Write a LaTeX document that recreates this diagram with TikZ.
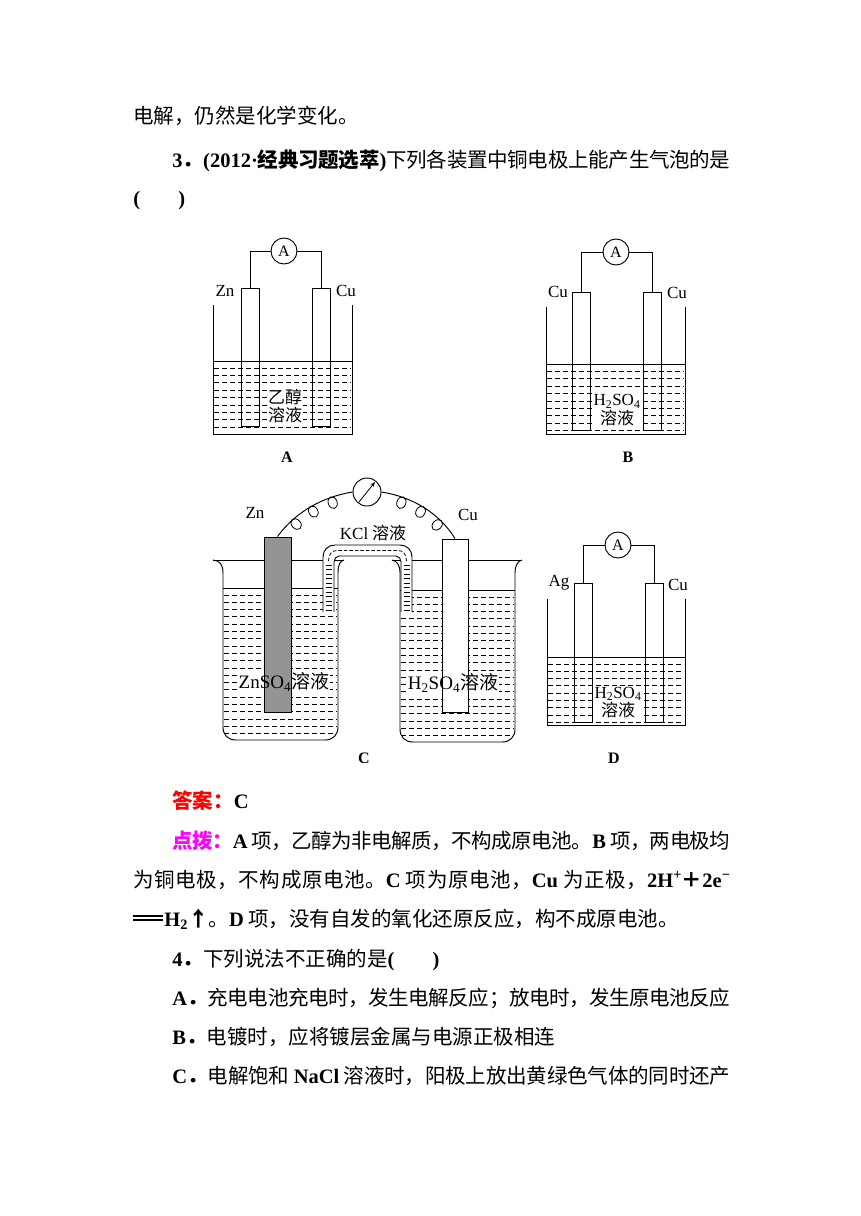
\documentclass[tikz,border=0pt]{standalone}
\usepackage{fontspec}
\setmainfont{Liberation Serif}
\newfontfamily\cjk{Noto Sans CJK SC}
\usetikzlibrary{arrows.meta,calc,decorations.markings}
\newXeTeXintercharclass\CJKcls
\newcount\cjkcc
\cjkcc="4E00 \loop \XeTeXcharclass\cjkcc=\CJKcls \advance\cjkcc by 1 \ifnum\cjkcc<"A000 \repeat
\cjkcc="3000 \loop \XeTeXcharclass\cjkcc=\CJKcls \advance\cjkcc by 1 \ifnum\cjkcc<"3040 \repeat
\cjkcc="FF00 \loop \XeTeXcharclass\cjkcc=\CJKcls \advance\cjkcc by 1 \ifnum\cjkcc<"FFF0 \repeat
\XeTeXinterchartoks\CJKcls\CJKcls={\hskip0pt plus 2pt minus 1.5pt\relax}
\XeTeXinterchartokenstate=1
\definecolor{ansred}{RGB}{255,0,0}
\definecolor{tipmag}{RGB}{255,0,255}
\newcommand\B[1]{{\rmfamily\bfseries #1}}
\newcommand\CB[1]{{\cjk\bfseries #1}}
\newcommand\jl[2]{\makebox[#1][s]{#2}}
\begin{document}
\begin{tikzpicture}[x=1pt,y=-1pt,line width=0.95pt,
  txt/.style={anchor=base west,inner sep=0pt,font=\cjk\fontsize{20.5}{24}\selectfont},
  lab/.style={inner sep=0pt,font=\fontsize{17}{19}\selectfont},
  capt/.style={inner sep=0pt,font=\bfseries\fontsize{16}{18}\selectfont},
  sol/.style={inner sep=1pt,fill=white,align=center,font=\cjk\fontsize{17}{18.5}\selectfont},
  csol/.style={inner sep=1pt,font=\cjk\fontsize{19}{21}\selectfont},
  liq/.style={line width=0.9pt,dash pattern=on 5pt off 3pt},
  elec/.style={draw,line width=0.95pt,minimum width=18pt,minimum height=138pt,inner sep=0pt},
  meter/.style={draw,circle,fill=white,minimum size=26pt,inner sep=0pt,font=\fontsize{16}{18}\selectfont},
  loopmark/.style={postaction={decorate,decoration={markings,
    mark=at position 0.25 with {\draw[line width=0.8pt] (0pt,-5.5pt) ellipse [x radius=4.5pt,y radius=6pt];},
    mark=at position 0.5 with {\draw[line width=0.8pt] (0pt,-5.5pt) ellipse [x radius=4.5pt,y radius=6pt];},
    mark=at position 0.75 with {\draw[line width=0.8pt] (0pt,-5.5pt) ellipse [x radius=4.5pt,y radius=6pt];}}}}
]
\fill[white] (0,0) rectangle (860,1216);
\useasboundingbox (0,0) rectangle (860,1216);

% ---------------- text above ----------------
\node[txt] (t1) at (133,123.8) {电解，仍然是化学变化。};
\node[txt] (t2) at (172,167) {\jl{558pt}{\B{3}\CB{．}\B{(2012·}\CB{经典习题选萃}\B{)}下列各装置中铜电极上能产生气泡的是}};
\node[txt] (t3) at (133,205) {\B{(}\hspace{38pt}\B{)}};

% ---------------- A ----------------
\draw (213,305) -- (213,434) -- (352,434) -- (352,305);
\draw (213,361.5) -- (352,361.5);
\foreach \y in {368,375.4,...,428} \draw[liq] (214,\y) -- (351,\y);
\node[sol] (sa) at (285,406) {乙醇\\溶液};
\node[elec] (a1) at (250,357) {};
\node[elec] (a2) at (321,357) {};
\node[meter] (ma) at (284,251) {A};
\draw (a1.north) |- (ma.west);
\draw (a2.north) |- (ma.east);
\node[lab] (la1) at (225,291) {Zn};
\node[lab] (la2) at (346,291) {Cu};
\node[capt] (ca) at (287,457) {A};

% ---------------- B ----------------
\draw (546,307) -- (546,434) -- (685,434) -- (685,307);
\draw (546,364) -- (685,364);
\foreach \y in {371.5,378.9,...,432} \draw[liq] (547,\y) -- (684,\y);
\node[sol] (sb) at (617,410) {{\rmfamily H\textsubscript{2}SO\textsubscript{4}}\\溶液};
\node[elec] (b1) at (581.5,361) {};
\node[elec] (b2) at (652,361) {};
\node[meter] (mb) at (616,252) {A};
\draw (b1.north) |- (mb.west);
\draw (b2.north) |- (mb.east);
\node[lab] (lb1) at (558,292) {Cu};
\node[lab] (lb2) at (677,293) {Cu};
\node[capt] (cb) at (628,457) {B};

% ---------------- D ----------------
\draw (547,599) -- (547,725) -- (685,725) -- (685,599);
\draw (547,657) -- (685,657);
\foreach \y in {664,671.3,...,723} \draw[liq] (548,\y) -- (684,\y);
\node[sol] (sd) at (618,702.5) {{\rmfamily H\textsubscript{2}SO\textsubscript{4}}\\溶液};
\node[elec,minimum height=139pt] (d1) at (583.5,652.5) {};
\node[elec,minimum height=139pt] (d2) at (654,652.5) {};
\node[meter] (md) at (618,545) {A};
\draw (d1.north) |- (md.west);
\draw (d2.north) |- (md.east);
\node[lab] (ld1) at (559,583) {Ag};
\node[lab] (ld2) at (678,585) {Cu};
\node[capt] (cd) at (614,758) {D};

% ---------------- C ----------------
% beakers
\draw (213,560) .. controls (220,560.5) and (223,565) .. (223,573) -- (223,727)
  .. controls (223,735) and (228,740) .. (236,740) -- (325,740)
  .. controls (333,740) and (338,735) .. (338,727) -- (338,573)
  .. controls (338,565) and (340,561) .. (344,560);
\draw (213,560) -- (344,560);
\draw (392,560) .. controls (397,561) and (400,565) .. (400,573) -- (400,729)
  .. controls (400,737) and (405,742) .. (413,742) -- (502,742)
  .. controls (510,742) and (515,737) .. (515,729) -- (515,573)
  .. controls (515,565) and (518,561) .. (522,560);
\draw (392,560) -- (522,560);
% liquids
\draw (223,588) -- (338,588);
\draw (400,590) -- (515,590);
\begin{scope}
  \clip (223,588) -- (223,727) .. controls (223,735) and (228,740) .. (236,740) -- (325,740)
    .. controls (333,740) and (338,735) .. (338,727) -- (338,588) -- cycle;
  \foreach \y in {595,602.3,...,738} \draw[liq] (224,\y) -- (337,\y);
\end{scope}
\begin{scope}
  \clip (400,590) -- (400,729) .. controls (400,737) and (405,742) .. (413,742) -- (502,742)
    .. controls (510,742) and (515,737) .. (515,729) -- (515,590) -- cycle;
  \foreach \y in {597,604.3,...,740} \draw[liq] (401,\y) -- (514,\y);
\end{scope}
% text backgrounds
\node[csol,fill=white,text opacity=0] (zsbg) at (284,682) {{\rmfamily ZnSO\textsubscript{4}}溶液};
\node[csol,fill=white,text opacity=0] (hsbg) at (453,683) {{\rmfamily H\textsubscript{2}SO\textsubscript{4}}溶液};
% electrodes
\node[draw,fill=black!42,minimum width=27pt,minimum height=175pt,inner sep=0pt] (zn) at (277.5,624.5) {};
\node[draw,fill=white,minimum width=26pt,minimum height=173pt,inner sep=0pt] (cu) at (455,625.5) {};
\node[csol] (zs) at (284,682) {{\rmfamily ZnSO\textsubscript{4}}溶液};
\node[csol] (hs) at (453,683) {{\rmfamily H\textsubscript{2}SO\textsubscript{4}}溶液};
% salt bridge
\fill[white] (323,612) -- (323,557) .. controls (323,550) and (328,545) .. (335,545) -- (400,545)
  .. controls (407,545) and (412,550) .. (412,557) -- (412,612) -- (401,612) -- (401,562)
  .. controls (401,559) and (399,556) .. (396,556) -- (339,556)
  .. controls (336,556) and (334,559) .. (334,562) -- (334,612) -- cycle;
\draw (323,612) -- (323,557) .. controls (323,550) and (328,545) .. (335,545) -- (400,545)
  .. controls (407,545) and (412,550) .. (412,557) -- (412,612);
\draw (334,612) -- (334,562) .. controls (334,559) and (336,556) .. (339,556) -- (396,556)
  .. controls (399,556) and (401,559) .. (401,562) -- (401,612);
\draw[line width=0.8pt,dash pattern=on 3.5pt off 2pt] (328.5,561) .. controls (328.5,554) and (332,550.5) .. (337,550.5)
  -- (398,550.5) .. controls (403,550.5) and (406.5,554) .. (406.5,561);
\foreach \y in {565,569.5,...,611} {
  \draw[line width=0.8pt] (325.5,\y) -- (331.5,\y);
  \draw[line width=0.8pt] (403.5,\y) -- (409.5,\y);
}
% galvanometer and wire
\node[draw,circle,fill=white,minimum size=28pt,inner sep=0pt] (gal) at (367,492) {};
\draw[-{Stealth[length=5pt,width=4pt]},line width=0.8pt] ($(gal.center)+(-8,10)$) -- ($(gal.center)+(8,-10)$);
\draw[loopmark] (zn.north) .. controls (295.3,512.1) and (322.6,496.8) .. (gal.west);
\draw[loopmark] (gal.east) .. controls (411.4,496.8) and (438.7,512.1) .. (cu.north);
\node[lab] (lzn) at (255,513) {Zn};
\node[lab] (lcu) at (468,515) {Cu};
\node[lab,font=\cjk\fontsize{17}{19}\selectfont] (kcl) at (373,533) {{\rmfamily KCl} 溶液};
\node[capt] (cc) at (364,758) {C};

% ---------------- text below ----------------
\node[txt] (t4) at (172,808) {{\color{ansred}\CB{答案：}}\B{C}};
\node[txt] (t5) at (172,848) {\jl{558pt}{{\color{tipmag}\CB{点拨：}}\B{A} 项，乙醇为非电解质，不构成原电池。\B{B} 项，两电极均}};
\node[txt] (t6) at (133,887) {\jl{597pt}{为铜电极，不构成原电池。\B{C} 项为原电池，\B{Cu} 为正极，\B{2H\textsuperscript{+}}\CB{＋}\B{2e\textsuperscript{−}}}};
\node[txt] (t7) at (133,926) {\rule[5.5pt]{30pt}{1.2pt}\hspace{-30pt}\rule[9.5pt]{30pt}{1.2pt}\hspace{1pt}\B{H\textsubscript{2}}\CB{↑}。\B{D} 项，没有自发的氧化还原反应，构不成原电池。};
\node[txt] (t8) at (172,966) {\B{4}\CB{．}下列说法不正确的是\B{(}\hspace{38pt}\B{)}};
\node[txt] (t9) at (172,1005) {\jl{558pt}{\B{A}\CB{．}充电电池充电时，发生电解反应；放电时，发生原电池反应}};
\node[txt] (t10) at (172,1044) {\B{B}\CB{．}电镀时，应将镀层金属与电源正极相连};
\node[txt] (t11) at (172,1083) {\jl{558pt}{\B{C}\CB{．}电解饱和 \B{NaCl} 溶液时，阳极上放出黄绿色气体的同时还产}};
\end{tikzpicture}
\end{document}
